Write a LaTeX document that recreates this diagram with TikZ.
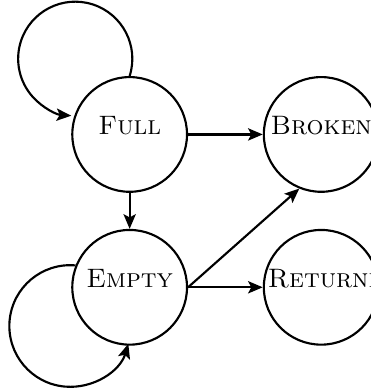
\documentclass[tikz,border=0pt]{standalone}
\usepackage{tikz}
\usetikzlibrary{arrows.meta, positioning}

\begin{document}
\begin{tikzpicture}[
state/.style={
circle,
draw,
thick,
inner sep=0pt,
minimum size=43pt,
text width=40pt,
align=center,
text height=2pt,
text depth=2pt
},
arrow/.style={
-{Stealth[length=5.5pt, width=4.6pt, inset=1.2pt]},
thick
}
]
\useasboundingbox (-48.6pt,-95.8pt) rectangle (90.2pt,50.4pt);

\node[state] (full) {\textsc{Full}};

\node[state, right=28pt of full] (broken) {\textsc{Broken}};

\node[state, below=13.5pt of full] (empty) {\textsc{Empty}};

\node[state, right=28pt of empty] (returned) {\textsc{Returned}};

\draw[arrow] (full.north) arc[start angle=-17.6, end angle=266, radius=21.4pt];
\draw[arrow] (full) -- (broken);
\draw[arrow] (full) -- (empty);
\draw[arrow] (empty.158) arc[start angle=85, end angle=343, radius=22.8pt];
\draw[arrow] (empty.east) -- (broken.248);
\draw[arrow] (empty) -- (returned);

\end{tikzpicture}
\end{document}
